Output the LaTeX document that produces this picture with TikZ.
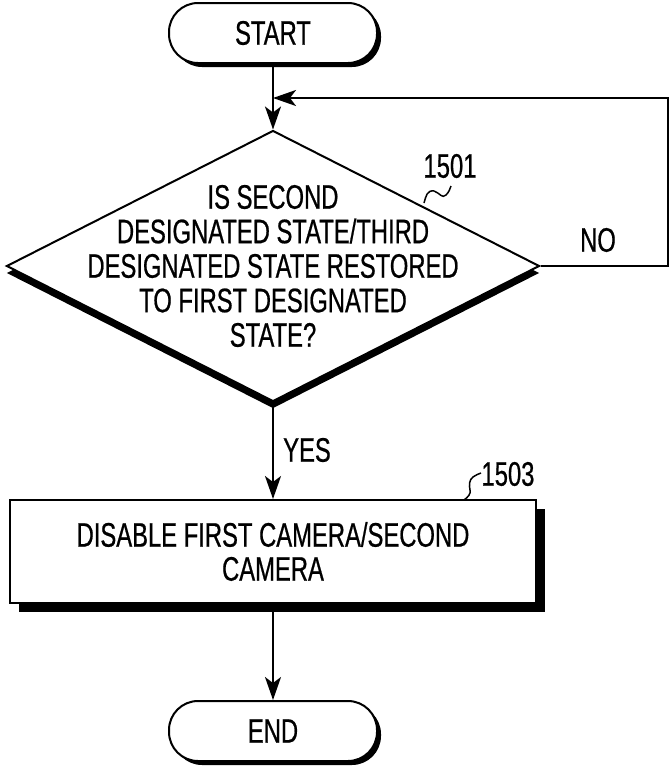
\documentclass[tikz,border=0pt]{standalone}
\usepackage{fontspec}
\setmainfont{Liberation Sans}[FakeStretch=0.7,FakeBold=0.6]
\usetikzlibrary{shapes.geometric,arrows.meta,shadows}
\begin{document}
\begin{tikzpicture}[x=1pt,y=-1pt,
  line width=2pt,
  every node/.style={font=\fontsize{34}{34}\selectfont},
  term/.style={draw, fill=white, rounded corners=29pt, minimum width=208pt, minimum height=60pt, inner sep=0pt,
    drop shadow={shadow xshift=4pt, shadow yshift=-4pt, fill=black, opacity=1}},
  dia/.style={diamond, draw, fill=white, minimum width=533pt, minimum height=271pt, inner sep=0pt,
    drop shadow={shadow xshift=0pt, shadow yshift=-7pt, fill=black, opacity=1}},
  proc/.style={draw, fill=white, minimum width=526pt, minimum height=103pt, inner sep=0pt, align=center,
    drop shadow={shadow xshift=9pt, shadow yshift=-9pt, fill=black, opacity=1}},
  arr/.style={-{Stealth[length=23pt,width=16pt,inset=6pt]}},
  lbl/.style={inner sep=0pt},
  squig/.style={line width=1.5pt}
]
\useasboundingbox (0,0) rectangle (670,772);

\node[term] (s) at (273,33) {START};
\node[dia] (q) at (273,266) {};
\node[align=center, inner sep=0pt, font=\fontsize{34}{34.5}\selectfont] (qt) at (q.center) {IS SECOND\\DESIGNATED STATE/THIRD\\DESIGNATED STATE RESTORED\\TO FIRST DESIGNATED\\STATE?};
\node[proc] (p) at (273,551.5) {DISABLE FIRST CAMERA/SECOND\\CAMERA};
\node[term] (e) at (273,731) {END};

\coordinate (c2) at (668,98);
\coordinate (m) at (273,98);

\draw[arr] (s.south) -- (q.north);
\draw[arr] (q.east) -| (c2) -- (m);
\draw[arr] (q.south) -- (p.north);
\draw[arr] (p.south) -- (e.north);

\node[lbl] (no) at (598,240) {NO};
\node[lbl] (yes) at (307,450) {YES};

\node[lbl] (l1501) at (450,166) {1501};
\node[lbl] (l1503) at (508,474) {1503};

\coordinate (a1) at (424,203);
\coordinate (a2) at (451,186);
\draw[squig] (a1) .. controls (426,196) and (427,190) .. (434,191)
  .. controls (440,193) and (442,199) .. (446,195) .. controls (449,192) and (450,189) .. (a2);
\coordinate (b1) at (464,500);
\coordinate (b2) at (481,473);
\draw[squig] (b1) .. controls (468,497) and (471,494) .. (470,490)
  .. controls (469,485) and (469,480) .. (473,477) .. controls (476,475) and (478,474) .. (b2);
\end{tikzpicture}
\end{document}
